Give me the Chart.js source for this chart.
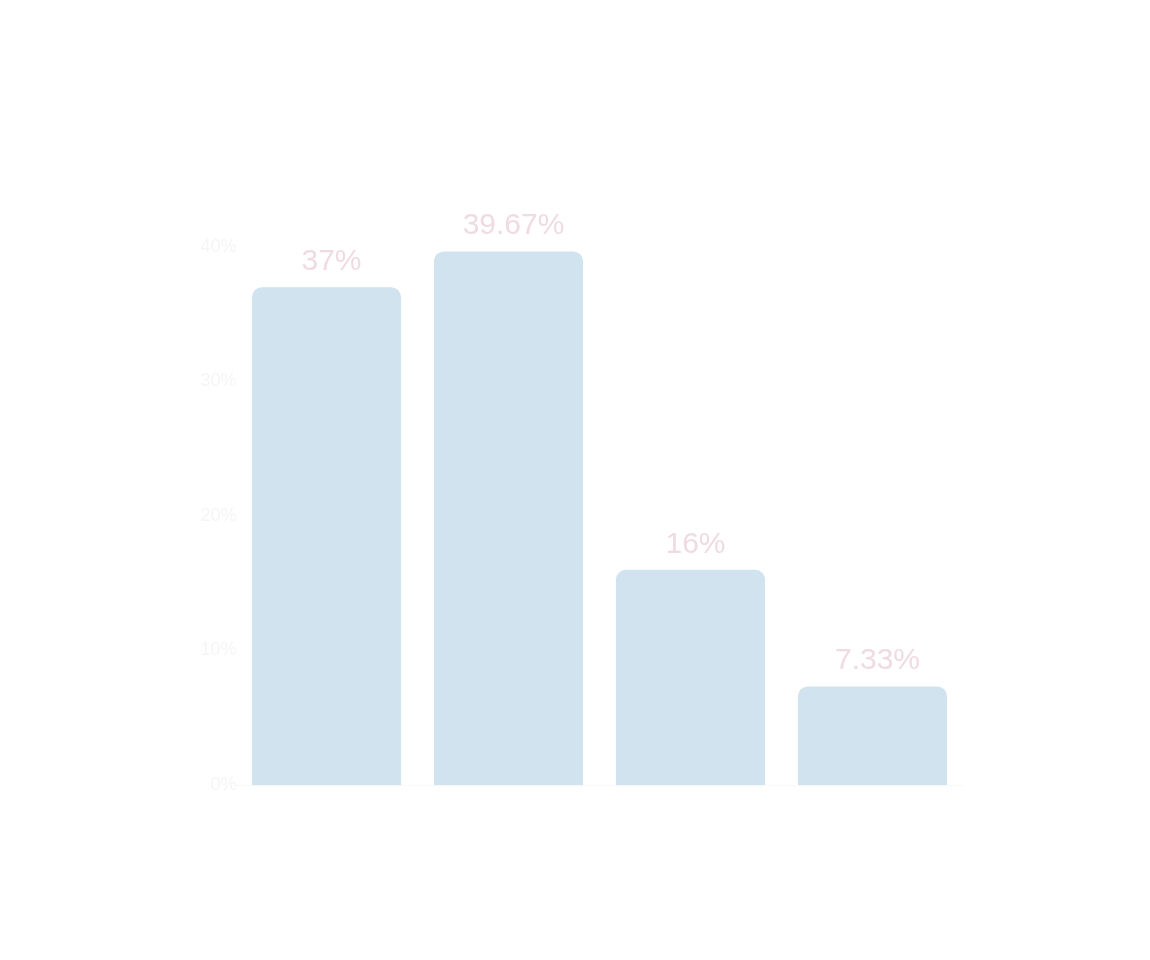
<!DOCTYPE html>
<html>
<head>
<meta charset="utf-8">
<script src="https://cdn.jsdelivr.net/npm/chart.js@4.4.1/dist/chart.umd.min.js"></script>
<style>
  html, body { margin: 0; padding: 0; background: #ffffff; }
  #wrap { width: 1150px; height: 960px; position: relative; }
</style>
</head>
<body>
<div id="wrap"><canvas id="c"></canvas></div>
<script>
const categories = ["A", "B", "C", "D"];
const values = [37, 39.67, 16, 7.33];
const valueLabels = ["37%", "39.67%", "16%", "7.33%"];
const yTicks = [0, 10, 20, 30, 40];

const labelPlugin = {
  id: 'valueLabels',
  afterDatasetsDraw(chart) {
    const ctx = chart.ctx;
    const meta = chart.getDatasetMeta(0);
    ctx.save();
    ctx.font = '30px "Liberation Sans", Arial, sans-serif';
    ctx.fillStyle = '#f0dbe3';
    ctx.textAlign = 'center';
    ctx.textBaseline = 'alphabetic';
    meta.data.forEach((bar, i) => {
      ctx.fillText(valueLabels[i], bar.x + 5, bar.y - 17);
    });
    ctx.restore();
  }
};

new Chart(document.getElementById('c'), {
  type: 'bar',
  data: {
    labels: categories,
    datasets: [{
      data: values,
      backgroundColor: '#d0e3ee',
      borderRadius: 10,
      borderSkipped: 'start',
      categoryPercentage: 1.0,
      barPercentage: 0.82
    }]
  },
  options: {
    responsive: true,
    maintainAspectRatio: false,
    animation: false,
    layout: { padding: { left: 175.5, right: 186.5, top: 247, bottom: 175 } },
    plugins: { legend: { display: false }, tooltip: { enabled: false } },
    scales: {
      x: {
        grid: { display: false, drawTicks: false },
        border: { display: true, color: '#f8f8f8' },
        ticks: { display: false }
      },
      y: {
        min: 0,
        max: 40,
        afterFit(axis) { axis.width = 60; },
        afterBuildTicks(axis) { axis.ticks = yTicks.map(v => ({ value: v })); },
        grid: { display: false, drawTicks: false },
        border: { display: false },
        ticks: {
          padding: -1,
          color: '#f5f5f5',
          font: { family: '"Liberation Sans", Arial, sans-serif', size: 18 },
          callback: v => v + '%'
        }
      }
    }
  },
  plugins: [labelPlugin]
});
</script>
</body>
</html>
